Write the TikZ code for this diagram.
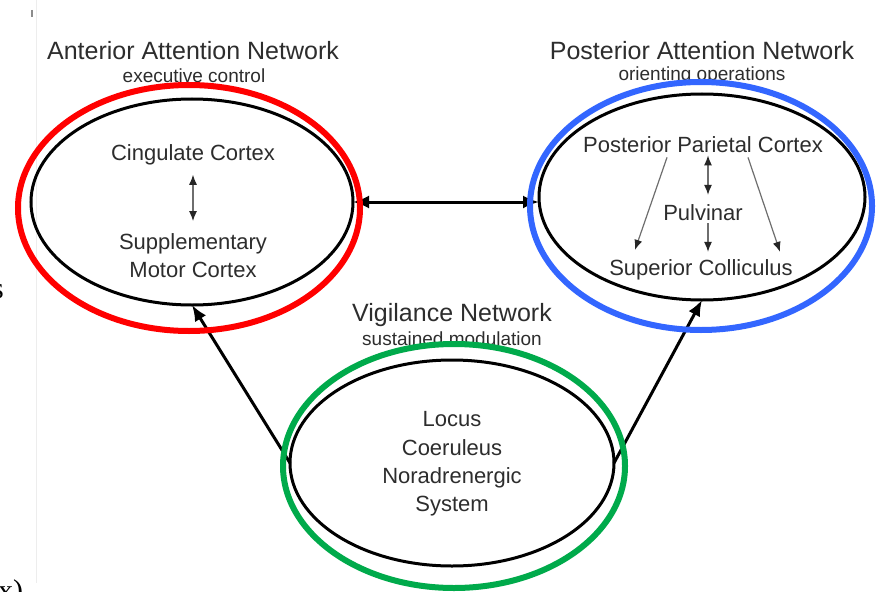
\documentclass[tikz,border=0pt]{standalone}
\usepackage{fontspec}
\setmainfont{Liberation Sans}
\newfontfamily\edgefont{Liberation Serif}
\usetikzlibrary{shapes.geometric,arrows.meta,calc}
\definecolor{ringred}{RGB}{255,0,0}
\definecolor{ringblue}{RGB}{51,102,255}
\definecolor{ringgreen}{RGB}{0,170,75}
\definecolor{labelgray}{RGB}{45,45,45}
\definecolor{innergray}{RGB}{110,110,110}

\begin{document}
\begin{tikzpicture}[x=1pt,y=-1pt,
  region/.style={ellipse, draw=black, line width=3pt, inner sep=0pt, outer sep=0pt},
  ring/.style={ellipse, line width=6pt, inner sep=0pt, outer sep=0pt},
  nettitle/.style={font=\fontsize{25}{30}\selectfont, text=labelgray, anchor=base, inner sep=0pt},
  netsub/.style={font=\fontsize{19}{23}\selectfont, text=labelgray, anchor=base, inner sep=0pt},
  area/.style={font=\fontsize{22}{28.3}\selectfont, text=labelgray, align=center, inner sep=2pt},
  link/.style={line width=3pt, draw=black},
  innerlink/.style={line width=1.2pt, draw=innergray}
]
\useasboundingbox (0,0) rectangle (877,591);
\fill[white] (0,0) rectangle (877,591);

% faint frame edge of the pasted figure
\draw[black!7, line width=1pt] (36,0) -- (36,583);
\draw[black!45, line width=1.5pt] (32,10) -- (32,17);

% clipped characters at the left border
\node[font=\edgefont\fontsize{30}{36}\selectfont, anchor=base east, inner sep=0pt] (edgeS) at (4,298) {s};
\node[font=\edgefont\fontsize{30}{36}\selectfont, anchor=base west, inner sep=0pt] (edgeX) at (-2,600) {x)};

% network titles
\node[nettitle] (antTitle) at (193,60) {Anterior Attention Network};
\node[netsub] (antSub) at (194,83) {executive control};
\node[nettitle] (postTitle) at (702,60) {Posterior Attention Network};
\node[netsub] (postSub) at (702,81) {orienting operations};
\node[nettitle] (vigTitle) at (452,321) {Vigilance Network};
\node[netsub] (vigSub) at (452,345) {sustained modulation};

% network ellipses
\node[region, minimum width=322pt, minimum height=206pt] (ant) at (192,202) {};
\node[region, minimum width=326pt, minimum height=206pt] (post) at (702,197) {};
\node[region, minimum width=324pt, minimum height=206pt] (vig) at (452,463) {};

% brain areas
\node[area, anchor=base] (cing) at (193,160) {Cingulate Cortex};
\node[area] (sma) at (193,255.5) {Supplementary\\Motor Cortex};
\node[area, anchor=base] (ppc) at (703,152) {Posterior Parietal Cortex};
\node[area, anchor=base] (pulv) at (703,220) {Pulvinar};
\node[area, anchor=base] (sc) at (701,275) {Superior Colliculus};
\node[area] (lc) at (452,464) {Locus\\Coeruleus\\Noradrenergic\\System};

% links inside the networks
\draw[innerlink, {Latex[length=10pt,width=8pt,color=black!85]}-{Latex[length=10pt,width=8pt,color=black!85]}]
  ([yshift=-8pt]cing.south) -- ([yshift=10pt]sma.north);
\draw[innerlink, {Latex[length=10pt,width=8pt,color=black!85]}-{Latex[length=10pt,width=8pt,color=black!85]}]
  ([xshift=5pt,yshift=-1pt]ppc.south) -- ([xshift=5pt,yshift=7pt]pulv.north);
\draw[innerlink, -{Latex[length=10pt,width=8pt,color=black!85]}]
  ([xshift=5pt,yshift=-1pt]pulv.south) -- ([xshift=7pt,yshift=5pt]sc.north);
\draw[innerlink, -{Latex[length=10pt,width=8pt,color=black!85]}]
  ([xshift=-36pt,yshift=-3pt]ppc.south) -- ([xshift=-66pt,yshift=7pt]sc.north);
\draw[innerlink, -{Latex[length=10pt,width=8pt,color=black!85]}]
  ([xshift=45pt,yshift=-3pt]ppc.south) -- ([xshift=79pt,yshift=5pt]sc.north);

% links between the networks
\draw[link, {Latex[length=16pt,width=13pt]}-{Latex[length=16pt,width=13pt]}]
  (ant.east) -- (ant.east -| post.west);
\draw[link, -{Latex[length=16pt,width=13pt]}] (vig.west) -- (ant.south);
\draw[link, -{Latex[length=16pt,width=13pt]}] (vig.east) -- (post.south);

% highlight rings
\node[ring, draw=ringred, minimum width=342pt, minimum height=246pt] (antRing) at (189,208) {};
\node[ring, draw=ringblue, minimum width=342pt, minimum height=248pt] (postRing) at (701,206) {};
\node[ring, draw=ringgreen, minimum width=342pt, minimum height=244pt] (vigRing) at (454,466) {};
\end{tikzpicture}
\end{document}
